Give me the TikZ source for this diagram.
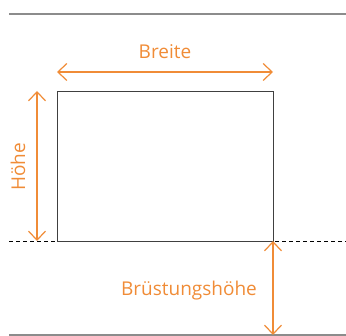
\documentclass[tikz,border=0pt]{standalone}
\usepackage{fontspec}
\setmainfont{Open Sans}
\usetikzlibrary{arrows.meta}
\definecolor{orng}{RGB}{240,140,55}
\definecolor{grau}{RGB}{140,140,140}

\begin{document}
\begin{tikzpicture}[x=1pt,y=1pt,>={Straight Barb[length=9,width=17]},
	mass/.style={<->,orng,line width=1.2pt},
	lbl/.style={text=orng,inner sep=0pt,font=\fontsize{19}{22}\selectfont}]
\useasboundingbox (0,0) rectangle (346,336);

% Boden und Decke
\draw[grau,line width=2.5pt] (9,322) -- (346,322);
\draw[grau,line width=2pt] (9,1) -- (346,1);
\draw[dash pattern=on 4pt off 3pt,line width=0.8pt] (9,95) -- (346,95);

% Fenster
\coordinate (ul) at (57,95);
\coordinate (or) at (273,245);
\draw[line width=0.9pt,black!75] (ul) rectangle (or);

% Masse
\coordinate (b1) at (57,264);
\coordinate (b2) at (273,264);
\coordinate (h1) at (37,245);
\coordinate (h2) at (37,95);
\coordinate (p1) at (273,95);
\coordinate (p2) at (273,1);
\draw[mass] (b1) -- (b2);
\draw[mass] (h1) -- (h2);
\draw[mass] (p1) -- (p2);

\node[lbl] (breite) at (165,284) {Breite};
\node[lbl,rotate=90] (hoehe) at (18,169) {Höhe};
\node[lbl] (bruest) at (189,45) {Brüstungshöhe};
\end{tikzpicture}
\end{document}
